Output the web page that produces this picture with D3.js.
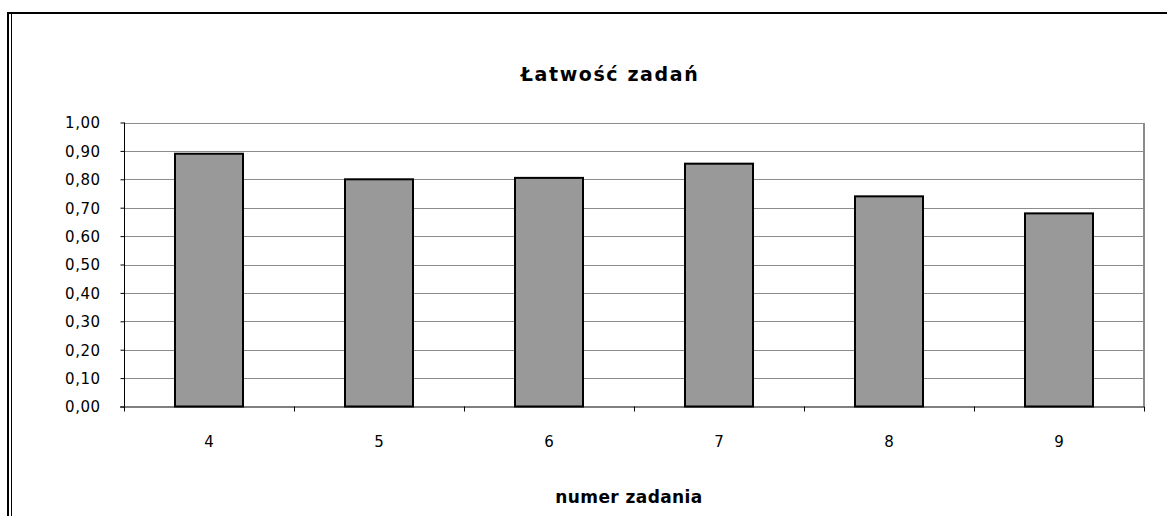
<!DOCTYPE html>
<html>
<head>
<meta charset="utf-8">
<script src="https://cdn.jsdelivr.net/npm/d3@7"></script>
<style>
  body { margin: 0; background: #fff; }
  svg text { font-family: "DejaVu Sans", sans-serif; }
</style>
</head>
<body>
<div id="chart"></div>
<script>
const categories = ['4', '5', '6', '7', '8', '9'];
const values = [0.89, 0.80, 0.805, 0.855, 0.74, 0.68];
const yTicks = [0, 0.1, 0.2, 0.3, 0.4, 0.5, 0.6, 0.7, 0.8, 0.9, 1.0];
const title = 'Łatwość zadań';
const xTitle = 'numer zadania';

const W = 1167, H = 516;
const plot = { left: 124, right: 1144, top: 122.5, bottom: 406.5 };
const font = '"DejaVu Sans", sans-serif';

const svg = d3.select('#chart').append('svg')
  .attr('width', W)
  .attr('height', H);

// outer frame
svg.append('line').attr('x1', 7).attr('x2', W).attr('y1', 13).attr('y2', 13)
  .attr('stroke', '#000').attr('stroke-width', 2);
svg.append('line').attr('x1', 8).attr('x2', 8).attr('y1', 12).attr('y2', H)
  .attr('stroke', '#000').attr('stroke-width', 2);
svg.append('line').attr('x1', 11.5).attr('x2', 11.5).attr('y1', 14).attr('y2', H)
  .attr('stroke', '#000').attr('stroke-width', 1);

const x = d3.scaleBand().domain(categories).range([plot.left, plot.right]);
const y = d3.scaleLinear().domain([0, 1]).range([plot.bottom, plot.top]);

// gridlines
svg.append('g').selectAll('line')
  .data(yTicks.filter(d => d > 0))
  .enter()
  .append('line')
  .attr('x1', plot.left)
  .attr('x2', plot.right)
  .attr('y1', d => Math.round(y(d)) + 0.5)
  .attr('y2', d => Math.round(y(d)) + 0.5)
  .attr('stroke', '#8c8c8c')
  .attr('stroke-width', 1);

// right border of plot
svg.append('line')
  .attr('x1', plot.right).attr('x2', plot.right)
  .attr('y1', Math.round(plot.top)).attr('y2', plot.bottom)
  .attr('stroke', '#8c8c8c').attr('stroke-width', 2);

// bars
const barW = x.bandwidth() * 0.4;
svg.append('g').selectAll('rect')
  .data(values)
  .enter()
  .append('rect')
  .attr('x', (d, i) => x(categories[i]) + (x.bandwidth() - barW) / 2)
  .attr('y', d => y(d))
  .attr('width', barW)
  .attr('height', d => plot.bottom - y(d))
  .attr('fill', '#999999')
  .attr('stroke', '#000')
  .attr('stroke-width', 2);

// y axis
const yAxis = d3.axisLeft(y)
  .tickValues(yTicks)
  .tickSize(4)
  .tickPadding(20)
  .tickFormat(d => d3.format('.2f')(d).replace('.', ','));
const gy = svg.append('g')
  .attr('transform', `translate(${plot.left + 0.5},0)`)
  .call(yAxis)
  .attr('font-family', font)
  .attr('font-size', 15);
gy.select('.domain').attr('stroke', '#000').attr('d', `M0,${plot.top}V${plot.bottom}`);
gy.selectAll('.tick line').attr('stroke', '#000');
gy.selectAll('text')
  .attr('fill', '#000')
  .attr('letter-spacing', 0.5)
  .attr('dy', '0.36em');

// x axis line with ticks at band edges
svg.append('line')
  .attr('x1', plot.left - 4).attr('x2', plot.right)
  .attr('y1', plot.bottom + 0.5).attr('y2', plot.bottom + 0.5)
  .attr('stroke', '#000');
const edges = categories.map(c => x(c)).concat([plot.right]);
svg.append('g').selectAll('line')
  .data(edges)
  .enter()
  .append('line')
  .attr('x1', d => Math.round(d) + 0.5)
  .attr('x2', d => Math.round(d) + 0.5)
  .attr('y1', plot.bottom)
  .attr('y2', plot.bottom + 5)
  .attr('stroke', '#000');

svg.append('g').selectAll('text')
  .data(categories)
  .enter()
  .append('text')
  .attr('x', d => x(d) + x.bandwidth() / 2)
  .attr('y', 447)
  .attr('text-anchor', 'middle')
  .attr('font-size', 15)
  .attr('fill', '#000')
  .text(d => d);

// titles
svg.append('text')
  .attr('x', 610)
  .attr('y', 81)
  .attr('text-anchor', 'middle')
  .attr('font-size', 19)
  .attr('font-weight', 'bold')
  .attr('letter-spacing', 1.6)
  .text(title);

svg.append('text')
  .attr('x', 629)
  .attr('y', 503)
  .attr('text-anchor', 'middle')
  .attr('font-size', 17)
  .attr('font-weight', 'bold')
  .attr('letter-spacing', 0.4)
  .text(xTitle);
</script>
</body>
</html>
